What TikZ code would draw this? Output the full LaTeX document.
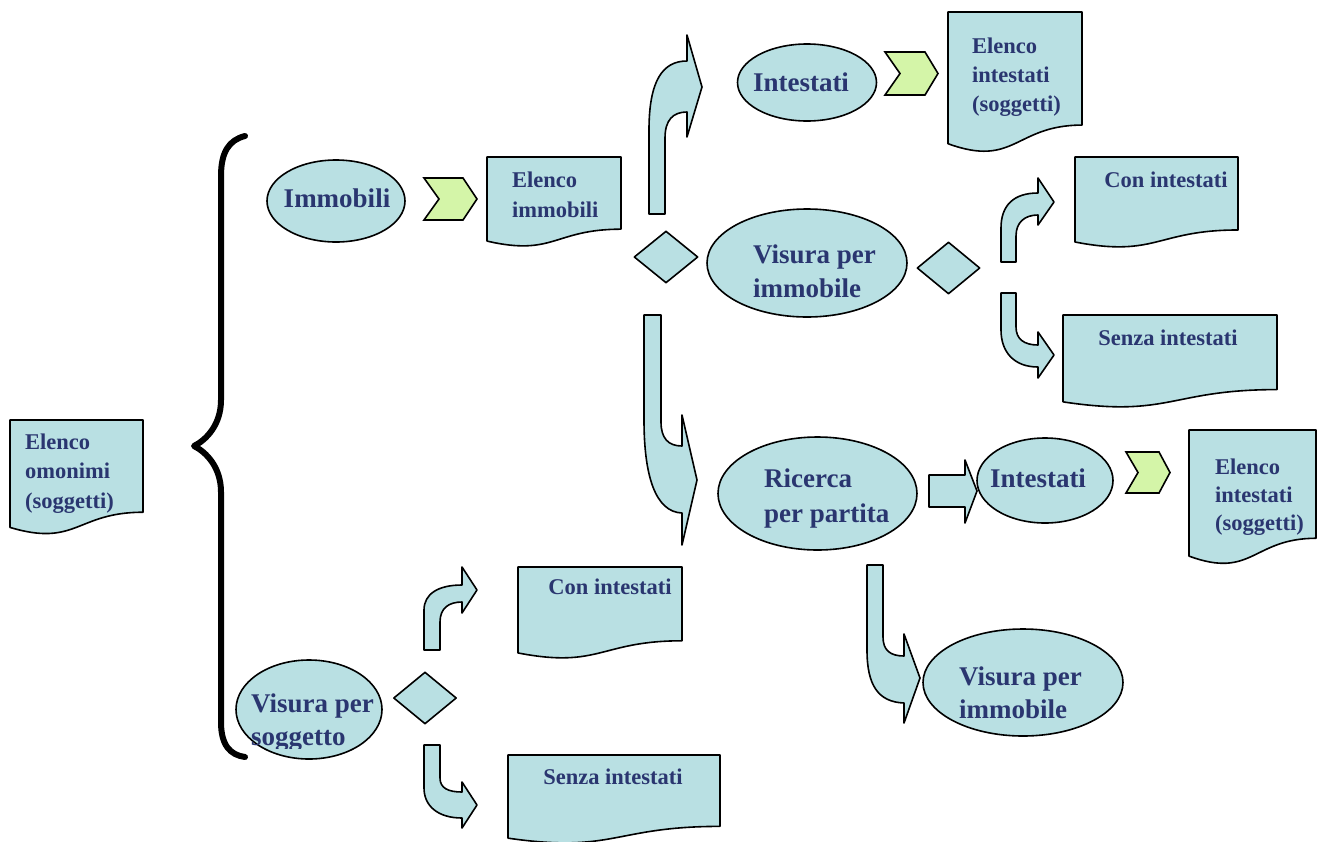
\documentclass[tikz,border=0pt]{standalone}
\usepackage{fontspec}
\setmainfont{Liberation Serif}
\usetikzlibrary{shapes.geometric}
\definecolor{fillc}{RGB}{185,224,227}
\definecolor{chevc}{RGB}{212,245,168}
\definecolor{txtc}{RGB}{42,54,112}
\tikzset{
  shp/.style={draw=black, fill=fillc, line width=1.6pt, line join=round},
  chev/.style={draw=black, fill=chevc, line width=1.6pt, line join=miter},
  ell/.style={ellipse, shp, inner sep=0pt},
  dia/.style={diamond, shp, inner sep=0pt, minimum width=63pt, minimum height=52pt},
  bigtxt/.style={text=txtc, font=\bfseries\fontsize{27}{33}\selectfont, inner sep=0pt},
  smalltxt/.style={text=txtc, font=\bfseries\fontsize{22.5}{29}\selectfont, inner sep=0pt},
  bracestyle/.style={draw=black, line width=6pt, line cap=round, line join=round}
}
\newcommand\docpath[4]{\draw[shp] (#1,#2) -- ({#1+#3},#2) -- ({#1+#3},{#2+0.802*#4}) .. controls ({#1+0.5*#3},{#2+0.802*#4}) and ({#1+0.5*#3},{#2+1.1075*#4}) .. (#1,{#2+0.934*#4}) -- cycle;}
\begin{document}
\begin{tikzpicture}[x=1pt,y=-1pt]
\fill[white] (0,0) rectangle (1317,841);
\useasboundingbox (0,0) rectangle (1317,841);

% brace
\draw[bracestyle] (245,136) .. controls (229,140) and (221,152) .. (221,176) -- (221,400) .. controls (221,425) and (206,440) .. (194,446) .. controls (206,452) and (221,467) .. (221,492) -- (221,722) .. controls (221,745) and (230,755) .. (245,757);

% documents
\docpath{10}{420}{133}{115}
\docpath{487}{157}{134}{90}
\docpath{948}{12}{134}{141}
\docpath{1075}{157}{163}{91}
\docpath{1063}{315}{214}{93}
\docpath{1189}{430}{127}{135}
\docpath{518}{567}{164}{92}
\docpath{508}{755}{212}{89}

% chevrons
\draw[chev] (424,178) -- (463,178) -- (477,199) -- (463,220) -- (424,220) -- (439,199) -- cycle;
\draw[chev] (885,52) -- (925,52) -- (938,73.5) -- (925,95) -- (885,95) -- (900,73.5) -- cycle;
\draw[chev] (1126,452) -- (1159,452) -- (1170,472.5) -- (1159,493) -- (1126,493) -- (1138,472.5) -- cycle;

% straight block arrow
\draw[shp] (929,475) -- (965,475) -- (965,460) -- (977,491) -- (965,523) -- (965,507) -- (929,507) -- cycle;

% bent arrows
\draw[shp] (649,214) -- (649,130) .. controls (649,80) and (663,61) .. (687,61) -- (687,35) -- (702,87) -- (687,137) -- (687,112) .. controls (673,112) and (665,120) .. (665,138) -- (665,214) -- cycle;
\draw[shp] (644,315) -- (661,315) -- (661,422) .. controls (661,438) and (668,446) .. (682,446) -- (682,415) -- (697,480) -- (682,545) -- (682,513) .. controls (655,512) and (644,475) .. (644,420) -- cycle;
\draw[shp] (1001,262) -- (1001,228) .. controls (1001,205) and (1014,193) .. (1038,193) -- (1038,178) -- (1054,202) -- (1038,225) -- (1038,215) .. controls (1025,215) and (1016,222) .. (1016,236) -- (1016,262) -- cycle;
\draw[shp] (1001,293) -- (1016,293) -- (1016,327) .. controls (1016,339) and (1024,345) .. (1038,345) -- (1038,332) -- (1054,355) -- (1038,378) -- (1038,367) .. controls (1014,367) and (1001,352) .. (1001,330) -- cycle;
\draw[shp] (424,650) -- (424,610) .. controls (424,594) and (438,585) .. (462,585) -- (462,567) -- (477,590) -- (462,613) -- (462,602) .. controls (449,602) and (440,608) .. (440,622) -- (440,650) -- cycle;
\draw[shp] (424,745) -- (440,745) -- (440,778) .. controls (440,788) and (448,792) .. (462,792) -- (462,782) -- (477,805) -- (462,828) -- (462,818) .. controls (438,818) and (424,806) .. (424,788) -- cycle;
\draw[shp] (867,565) -- (883,565) -- (883,637) .. controls (883,650) and (890,656) .. (904,656) -- (904,634) -- (920,678) -- (904,723) -- (904,703) .. controls (878,702) and (867,685) .. (867,650) -- cycle;

% diamonds
\node[dia, minimum width=64pt] (d1) at (666,257) {};
\node[dia] (d2) at (948.5,268) {};
\node[dia] (d3) at (425,698) {};

% ellipses
\node[ell, minimum width=138pt, minimum height=82pt] (e1) at (336,201) {};
\node[ell, minimum width=139pt, minimum height=77pt] (e2) at (807,82.5) {};
\node[ell, minimum width=200pt, minimum height=108pt] (e3) at (807,263) {};
\node[ell, minimum width=199pt, minimum height=113pt] (e4) at (817.5,493.5) {};
\node[ell, minimum width=136pt, minimum height=85pt] (e5) at (1045,480.5) {};
\node[ell, minimum width=200pt, minimum height=107pt] (e6) at (1023,682.5) {};
\node[ell, minimum width=146pt, minimum height=99pt] (e7) at (309,709.5) {};

% ellipse texts
\node[bigtxt, anchor=base] (t1) at (337,207) {Immobili};
\node[bigtxt, anchor=base] (t2) at (801,91) {Intestati};
\node[bigtxt, anchor=base west] (t3a) at (753,263) {Visura per};
\node[bigtxt, anchor=base west] (t3b) at (753,297) {immobile};
\node[bigtxt, anchor=base west] (t4a) at (764,487) {Ricerca};
\node[bigtxt, anchor=base west] (t4b) at (764,522) {per partita};
\node[bigtxt, anchor=base] (t5) at (1038,487) {Intestati};
\node[bigtxt, anchor=base west] (t6a) at (959,685) {Visura per};
\node[bigtxt, anchor=base west] (t6b) at (959,718) {immobile};
\node[bigtxt, anchor=base west] (t7a) at (251,712) {Visura per};
\begin{scope}
\clip (230,720) rectangle (400,748);
\node[bigtxt, anchor=base west] (t7b) at (251,745) {soggetto};
\end{scope}

% document texts
\node[smalltxt, anchor=base west] (s1a) at (25,449) {Elenco};
\node[smalltxt, anchor=base west] (s1b) at (25,478) {omonimi};
\node[smalltxt, anchor=base west] (s1c) at (25,508) {(soggetti)};
\node[smalltxt, anchor=base west] (s2a) at (512,187) {Elenco};
\node[smalltxt, anchor=base west] (s2b) at (512,217) {immobili};
\node[smalltxt, anchor=base west] (s3a) at (972,53) {Elenco};
\node[smalltxt, anchor=base west] (s3b) at (972,82) {intestati};
\node[smalltxt, anchor=base west] (s3c) at (972,111) {(soggetti)};
\node[smalltxt, anchor=base] (s4) at (1166,187) {Con intestati};
\node[smalltxt, anchor=base] (s5) at (1168,345) {Senza intestati};
\node[smalltxt, anchor=base west] (s6a) at (1215,474) {Elenco};
\node[smalltxt, anchor=base west] (s6b) at (1215,502) {intestati};
\node[smalltxt, anchor=base west] (s6c) at (1215,530) {(soggetti)};
\node[smalltxt, anchor=base] (s7) at (610,594) {Con intestati};
\node[smalltxt, anchor=base] (s8) at (613,784) {Senza intestati};
\end{tikzpicture}
\end{document}
